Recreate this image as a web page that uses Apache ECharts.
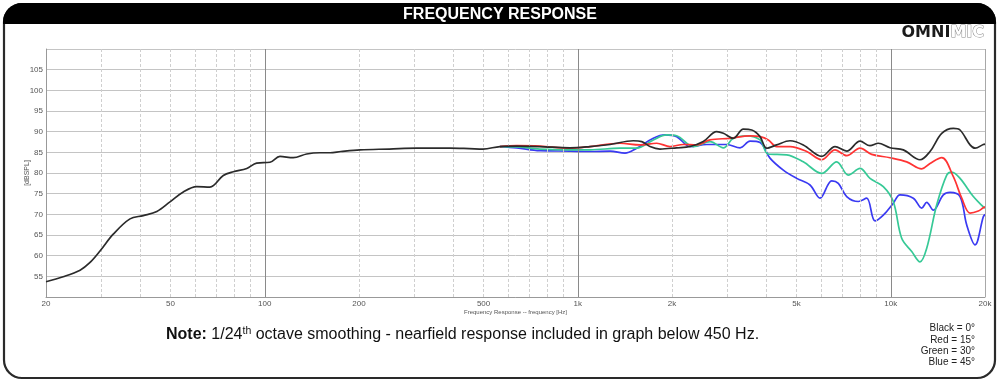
<!DOCTYPE html>
<html><head><meta charset="utf-8">
<script src="https://cdn.jsdelivr.net/npm/echarts@6/dist/echarts.min.js"></script>
<style>html,body{margin:0;padding:0;background:#fff}#c{width:1000px;height:386px}</style>
</head><body><div id="c"></div>
<script>
// ---- data (Hz / dB SPL) ----
const blackFreq = [20,22.7,25.7,27.6,29.8,32.8,37.1,40.9,45.2,49.8,54.9,60.6,66.8,73.7,79.3,87.6,94.2,103.9,111.8,123.3,136.1,150.1,161.6,175,201.5,250,305.8,390.8,450,498,564,638,757,944,1094,1268,1504,1601,1701,1831,2070,2284,2518,2778,2918,3140,3380,3596,3822,4014,4320,4765,5254,6017,6635,7230,7974,8582,9122,9942,10966,12400,13348,14548,15844,16644,17918,18588,19752,20000];
const blackDb   = [53.7,54.9,56.5,58.3,61.2,65.2,68.9,69.7,70.7,73.0,75.4,76.7,76.6,79.4,80.3,81.1,82.4,82.6,84.0,83.7,84.6,84.9,84.9,85.2,85.6,85.8,86.0,86.0,85.9,85.8,86.4,86.5,86.4,86.1,86.4,86.9,87.8,87.6,86.4,85.8,86.1,86.4,87.6,90.0,89.6,88.4,90.6,90.4,88.8,86.0,86.8,87.8,86.8,84.0,86.4,85.3,87.7,86.6,87.2,86.1,85.6,83.2,85.2,89.6,90.8,90.4,86.8,86.0,86.9,87.0];

const redFreq = [564,638,757,944,1094,1364,1581,1787,1971,2174,2398,2646,3064,3550,3822,4062,4320,4765,5388,6017,6635,7230,7974,8690,9942,11244,12558,13348,14548,15844,16856,17918,19038,19752,20000];
const redDb   = [86.4,86.6,86.5,86.0,86.4,87.2,86.8,87.2,86.4,86.9,86.8,88.0,88.4,89.0,88.8,88.0,86.4,86.4,85.2,83.2,85.6,84.2,86.0,84.5,83.7,82.7,81.0,82.3,83.7,79.1,73.9,70.3,70.8,71.6,71.8];

const greenFreq = [564,638,757,944,1094,1364,1543,1743,1924,2070,2340,2646,2918,3140,3466,3822,4062,4651,5254,6017,6718,7318,7974,8582,9464,10186,10836,11666,12400,13026,14022,15092,15658,16644,18356,19752,20000];
const greenDb   = [86.4,86.3,85.8,85.6,85.6,86.0,86.0,88.0,89.2,89.0,86.4,87.6,86.1,88.4,89.0,88.0,84.6,84.4,82.7,79.9,82.7,79.5,81.1,78.7,76.7,73.1,64.2,61.0,58.5,61.8,72.3,79.5,80.2,78.7,74.3,71.8,71.5];

const blueFreq = [564,638,757,944,1094,1268,1415,1543,1743,1900,2070,2284,2582,2992,3300,3550,3822,4112,4536,5005,5520,5942,6475,6798,7230,7876,8376,8904,9464,10186,10700,11804,12558,13026,13676,14720,15464,16644,17486,18588,19752,20000];
const blueDb   = [86.4,86.1,85.4,85.3,85.2,85.3,84.8,86.0,88.4,89.2,88.8,86.4,86.9,86.9,86.1,87.7,87.4,83.6,80.7,78.7,77.1,73.9,78.1,77.5,74.3,73.1,73.9,68.4,69.8,72.7,74.7,73.9,71.5,72.9,71.0,74.7,75.3,74.3,67.4,62.6,69.4,70.0];

const xTickLabels = [20,50,100,200,500,1000,2000,5000,10000,20000];
const minorGrid = [30,40,50,60,70,80,90,200,300,400,500,600,700,800,900,2000,3000,4000,5000,6000,7000,8000,9000];
const majorGrid = [100,1000,10000];
const edgeGrid = [20000];
const legendLines = ['Black = 0°','Red = 15°','Green = 30°','Blue = 45°'];
const titleText = 'FREQUENCY RESPONSE';
const noteText = '{b|Note:} 1/24{sup|th} octave smoothing - nearfield response included in graph below 450 Hz.';

const zip = (f, d) => f.map((v, i) => [v, d[i]]);
const FONT = 'Liberation Sans, Arial, sans-serif';

const chart = echarts.init(document.getElementById('c'), null, {renderer: 'canvas'});

function lineSeries(name, f, d, color, z) {
  return {
    name, type: 'line', data: zip(f, d), showSymbol: false, symbol: 'none',
    smooth: 0.35, z, lineStyle: {color, width: 1.7}, animation: false, silent: true
  };
}

const option = {
  animation: false,
  grid: {left: 46, right: 15, top: 49, bottom: 89, containLabel: false},
  xAxis: {
    type: 'log', logBase: 10, min: 20, max: 20000,
    name: 'Frequency Response -- frequency [Hz]', nameLocation: 'middle', nameGap: 12,
    nameMoveOverlap: false,
    nameTextStyle: {fontSize: 6, color: '#555', fontFamily: FONT},
    axisLine: {show: true, lineStyle: {color: '#999', width: 1}},
    axisTick: {show: false},
    splitLine: {show: false},
    minorSplitLine: {show: false},
    axisLabel: {
      customValues: xTickLabels, fontSize: 8, color: '#555', margin: 3, fontFamily: FONT,
      formatter: v => v >= 1000 ? (v / 1000) + 'k' : String(v)
    }
  },
  yAxis: {
    type: 'value', min: 50, max: 110, interval: 5,
    name: '[dBSPL]', nameLocation: 'middle', nameGap: 15, nameRotate: 90,
    nameMoveOverlap: false,
    nameTextStyle: {fontSize: 7, color: '#555', fontFamily: FONT},
    axisLine: {show: true, lineStyle: {color: '#999', width: 1}},
    axisTick: {show: false},
    splitLine: {show: true, lineStyle: {color: '#c4c4c4', width: 1}},
    axisLabel: {fontSize: 8, color: '#555', margin: 3, fontFamily: FONT,
      formatter: v => (v === 50 || v === 110) ? '' : String(v)}
  },
  series: [
    {
      name: 'grid', type: 'line', data: [], z: 1, silent: true,
      markLine: {
        silent: true, symbol: ['none', 'none'], label: {show: false}, animation: false,
        data: [
          ...minorGrid.map(v => ({xAxis: v, lineStyle: {color: '#cfcfcf', width: 1, type: [3, 2]}})),
          ...majorGrid.map(v => ({xAxis: v, lineStyle: {color: '#8a8a8a', width: 1, type: 'solid'}})),
          ...edgeGrid.map(v => ({xAxis: v, lineStyle: {color: '#a8a8a8', width: 1, type: 'solid'}}))
        ]
      }
    },
    lineSeries('Blue', blueFreq, blueDb, '#3a3af2', 2),
    lineSeries('Green', greenFreq, greenDb, '#36c996', 3),
    lineSeries('Red', redFreq, redDb, '#ff3333', 4),
    lineSeries('Black', blackFreq, blackDb, '#2b2b2b', 5)
  ],
  graphic: [
    {type: 'rect', z: 0, shape: {x: 4, y: 4, width: 991, height: 374, r: 18},
      style: {fill: 'none', stroke: '#2a2a2a', lineWidth: 2.2}},
    {type: 'rect', z: 0, shape: {x: 3, y: 3, width: 993, height: 21, r: [19, 19, 0, 0]},
      style: {fill: '#000'}},
    {type: 'text', z: 10, style: {text: titleText, x: 500, y: 14.5, align: 'center', verticalAlign: 'middle',
      fill: '#fff', font: 'bold 16px ' + FONT}},
    {type: 'text', z: 10, style: {
      text: '{a|OMNI}{b|MIC}', x: 984, y: 33, align: 'right', verticalAlign: 'middle',
      rich: {
        a: {fontFamily: 'DejaVu Sans', fontWeight: 'bold', fontSize: 16, fill: '#1a1a1a'},
        b: {fontFamily: 'DejaVu Sans', fontWeight: 'bold', fontSize: 16, fill: '#fff', stroke: '#888', lineWidth: 1}
      }}},
    {type: 'text', z: 10, style: {
      text: noteText, x: 166, y: 335, align: 'left', verticalAlign: 'middle',
      font: '16px ' + FONT, fill: '#111',
      rich: {
        b: {fontFamily: FONT, fontWeight: 'bold', fontSize: 16, fill: '#111', lineHeight: 19},
        sup: {fontFamily: FONT, fontSize: 10.5, fill: '#111', verticalAlign: 'top', lineHeight: 19, padding: [0, 0, 9, 0]}
      }}},
    {type: 'text', z: 10, style: {
      text: legendLines.join('\n'), x: 975, y: 323, align: 'right', verticalAlign: 'top',
      font: '10px ' + FONT, fill: '#222', lineHeight: 11.3}}
  ]
};
chart.setOption(option);
</script></body></html>
